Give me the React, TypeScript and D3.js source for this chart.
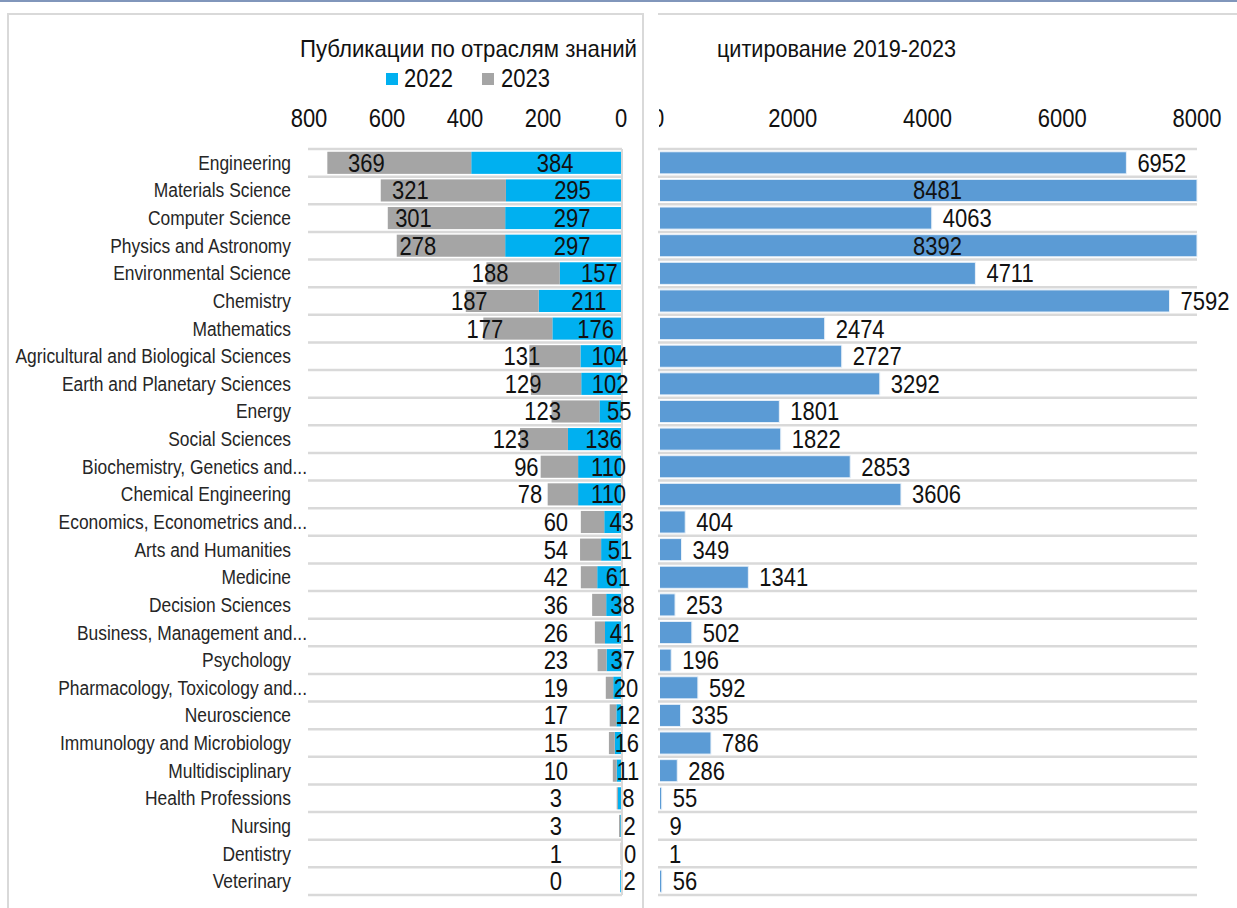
import React from "react";
import * as d3 from "d3";

const categories = [
  "Engineering", "Materials Science", "Computer Science", "Physics and Astronomy",
  "Environmental Science", "Chemistry", "Mathematics", "Agricultural and Biological Sciences",
  "Earth and Planetary Sciences", "Energy", "Social Sciences", "Biochemistry, Genetics and...",
  "Chemical Engineering", "Economics, Econometrics and...", "Arts and Humanities", "Medicine",
  "Decision Sciences", "Business, Management and...", "Psychology", "Pharmacology, Toxicology and...",
  "Neuroscience", "Immunology and Microbiology", "Multidisciplinary", "Health Professions",
  "Nursing", "Dentistry", "Veterinary",
];
const pub2022 = [384, 295, 297, 297, 157, 211, 176, 104, 102, 55, 136, 110, 110, 43, 51, 61, 38, 41, 37, 20, 12, 16, 11, 8, 2, 0, 2];
const pub2023 = [369, 321, 301, 278, 188, 187, 177, 131, 129, 123, 123, 96, 78, 60, 54, 42, 36, 26, 23, 19, 17, 15, 10, 3, 3, 1, 0];
const citations = [6952, 8481, 4063, 8392, 4711, 7592, 2474, 2727, 3292, 1801, 1822, 2853, 3606, 404, 349, 1341, 253, 502, 196, 592, 335, 786, 286, 55, 9, 1, 56];
const leftTicks = [800, 600, 400, 200, 0];
const rightTicks = [0, 2000, 4000, 6000, 8000];
const seriesNames = ["2022", "2023"];
const leftTitle = "Публикации по отраслям знаний";
const rightTitle = "цитирование 2019-2023";

const C2022 = "#00b0f0";
const C2023 = "#a5a5a5";
const CCIT = "#5b9bd5";
const GRID = "#d9d9d9";
const FONT = "'Liberation Sans', Arial, sans-serif";

function T({ x, y, size, sx, anchor, children, fill = "#111" }: any) {
  return (
    <g transform={`translate(${x},${y}) scale(${sx},1)`}>
      <text x={0} y={0} fontSize={size} fontFamily={FONT} textAnchor={anchor} fill={fill}>
        {children}
      </text>
    </g>
  );
}

export default function App() {
  const W = 1237, H = 908;
  const y = d3.scaleBand<string>().domain(categories).range([149, 895]).paddingInner(0.2).paddingOuter(0.1);
  const step = y.step();
  const bw = y.bandwidth();
  const xl = d3.scaleLinear().domain([0, 800]).range([621, 309]);
  const xr = d3.scaleLinear().domain([0, 8000]).range([658, 1197]).clamp(true);
  const dataSize = 25, dataSx = 0.88;
  const catSize = 20, catSx = 0.87;
  const bOff = dataSize * 0.36;
  const gridTop = (y(categories[0]) as number) - y.paddingOuter() * step;
  const boundaries = d3.range(categories.length + 1).map((i) => gridTop + i * step);

  return (
    <svg width={W} height={H} style={{ position: "absolute", left: 0, top: 0, background: "#fff" }}>
      <defs>
        <clipPath id="rclip">
          <rect x={659} y={0} width={W - 659} height={H} />
        </clipPath>
        <clipPath id="bclip">
          <rect x={660} y={0} width={W - 660} height={H} />
        </clipPath>
      </defs>
      <rect x={0} y={0} width={W} height={H} fill="#fff" />
      <line x1={0} x2={W} y1={1} y2={1} stroke="#8196bb" strokeWidth={2} />
      {/* panel borders */}
      <path d={`M8,${H + 2} V14 H643 V${H + 2}`} fill="none" stroke={GRID} strokeWidth={2} />
      <line x1={658} x2={W} y1={14} y2={14} stroke={GRID} strokeWidth={2} />

      {/* left titles & legend */}
      <text x={300} y={57} fontSize={24} fontFamily={FONT} fill="#111" textLength={337} lengthAdjust="spacingAndGlyphs">
        {leftTitle}
      </text>
      <rect x={386} y={73} width={12} height={12} fill={C2022} />
      <T x={404} y={87} size={dataSize} sx={dataSx} anchor="start">{seriesNames[0]}</T>
      <rect x={482} y={73} width={12} height={12} fill={C2023} />
      <T x={501} y={87} size={dataSize} sx={dataSx} anchor="start">{seriesNames[1]}</T>

      {/* right title */}
      <text x={717} y={57} fontSize={24} fontFamily={FONT} fill="#111" textLength={239} lengthAdjust="spacingAndGlyphs">
        {rightTitle}
      </text>

      {/* left ticks */}
      {leftTicks.map((t) => (
        <T key={t} x={xl(t)} y={118 + bOff} size={dataSize} sx={dataSx} anchor="middle">{t}</T>
      ))}
      {/* right ticks */}
      <g clipPath="url(#rclip)">
        {rightTicks.map((t) => (
          <T key={t} x={xr(t)} y={118 + bOff} size={dataSize} sx={dataSx} anchor="middle">{t}</T>
        ))}
      </g>

      {/* gridlines */}
      {boundaries.map((b, i) => (
        <g key={i}>
          <line x1={308} x2={622} y1={b} y2={b} stroke={GRID} strokeWidth={2.5} />
          <line x1={658} x2={1197} y1={b} y2={b} stroke={GRID} strokeWidth={2.5} />
        </g>
      ))}
      <line x1={622} x2={622} y1={gridTop} y2={gridTop + categories.length * step} stroke={GRID} strokeWidth={2} />

      {/* category labels */}
      {categories.map((c) => {
        const cy = (y(c) as number) + bw / 2;
        const trunc = c.endsWith("...");
        return (
          <T key={c} x={trunc ? 307 : 291} y={cy + catSize * 0.35} size={catSize} sx={catSx} anchor="end" fill="#262626">
            {c}
          </T>
        );
      })}

      {/* left bars */}
      {categories.map((c, i) => {
        const yy = y(c) as number;
        const a = pub2022[i], b = pub2023[i];
        return (
          <g key={c}>
            <rect x={xl(a)} y={yy} width={xl(0) - xl(a)} height={bw} fill={C2022} />
            <rect x={xl(a + b)} y={yy} width={xl(a) - xl(a + b)} height={bw} fill={C2023} />
          </g>
        );
      })}
      {/* left labels */}
      {categories.map((c, i) => {
        const cy = (y(c) as number) + bw / 2 + bOff;
        const a = pub2022[i], b = pub2023[i];
        const blueC = (xl(0) + xl(a)) / 2 + 9;
        const grayC = Math.min((xl(a) + xl(a + b)) / 2 - 33, xl(167));
        return (
          <g key={c}>
            <T x={grayC} y={cy} size={dataSize} sx={dataSx} anchor="middle">{b}</T>
            <T x={blueC} y={cy} size={dataSize} sx={dataSx} anchor="middle">{a}</T>
          </g>
        );
      })}

      {/* right bars */}
      <g clipPath="url(#bclip)">
        {categories.map((c, i) => {
          const yy = y(c) as number;
          const v = citations[i];
          return (
            <rect key={c} x={xr(0)} y={yy} width={xr(v) - xr(0)} height={bw} fill={CCIT} stroke="#e8f0f8" strokeWidth={1} />
          );
        })}
      </g>
      {categories.map((c, i) => {
        const cy = (y(c) as number) + bw / 2 + bOff;
        const v = citations[i];
        const over = v > xr.domain()[1];
        return over ? (
          <T key={c} x={(xr(0) + xr(v)) / 2 + 10} y={cy} size={dataSize} sx={dataSx} anchor="middle">{v}</T>
        ) : (
          <T key={c} x={xr(v) + 11} y={cy} size={dataSize} sx={dataSx} anchor="start">{v}</T>
        );
      })}
    </svg>
  );
}
